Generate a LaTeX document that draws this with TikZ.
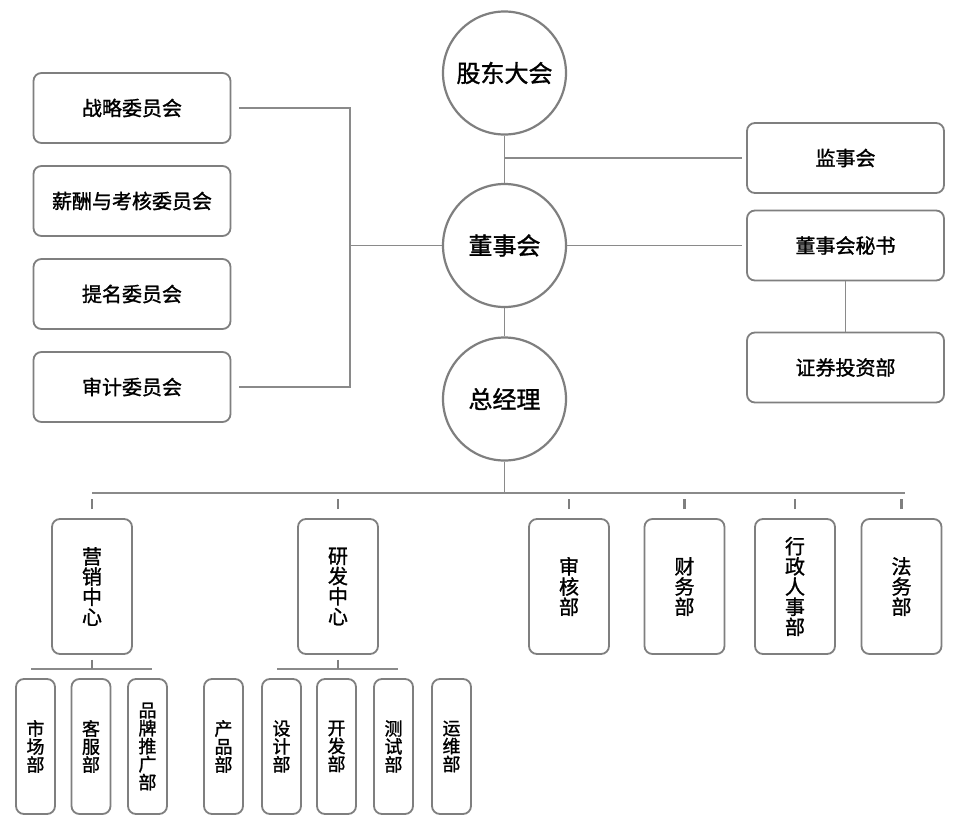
\documentclass[tikz,border=0pt]{standalone}
\usepackage{fontspec}
\setmainfont{Noto Sans CJK SC}[FakeBold=1.3]
\usetikzlibrary{calc}
\definecolor{bordergray}{HTML}{7F7F7F}
\definecolor{linegray}{HTML}{8A8A8A}
\begin{document}
\begin{tikzpicture}[x=1pt,y=-1pt,
  circ/.style={circle,draw=bordergray,line width=2.2pt,minimum size=123pt,inner sep=0pt,font=\fontsize{24}{24}\selectfont},
  hbox/.style={rectangle,rounded corners=8pt,draw=bordergray,line width=1.8pt,minimum width=197pt,minimum height=70pt,inner sep=0pt,font=\fontsize{20}{20}\selectfont},
  vbox/.style={rectangle,rounded corners=8pt,draw=bordergray,line width=1.8pt,minimum width=80pt,minimum height=135pt,inner sep=0pt,align=center,font=\fontsize{20}{20.2}\selectfont},
  sbox/.style={rectangle,rounded corners=8pt,draw=bordergray,line width=1.8pt,minimum width=39pt,minimum height=135pt,inner sep=0pt,align=center,font=\fontsize{18}{18}\selectfont},
  conn/.style={draw=linegray,line width=1.6pt},
  tick/.style={draw=bordergray,line width=2.4pt},
]
\useasboundingbox[fill=white] (0,0) rectangle (961,825);

% circles
\node[circ] (sh) at (504.5,73) {股东大会};
\node[circ] (bd) at (504.5,245.5) {董事会};
\node[circ] (gm) at (504.5,399) {总经理};

% left committees
\node[hbox] (c1) at (132,108) {战略委员会};
\node[hbox] (c2) at (132,201) {薪酬与考核委员会};
\node[hbox] (c3) at (132,294) {提名委员会};
\node[hbox] (c4) at (132,387) {审计委员会};

% right boxes
\node[hbox] (js) at (845.5,158) {监事会};
\node[hbox] (sec) at (845.5,245.5) {董事会秘书};
\node[hbox] (inv) at (845.5,367.5) {证券投资部};

% second level
\node[vbox] (mk) at (92,586.5) {营\\销\\中\\心};
\node[vbox] (rd) at (338,586.5) {研\\发\\中\\心};
\node[vbox] (sh2) at (569,586.5) {审\\核\\部};
\node[vbox] (cw) at (684.5,586.5) {财\\务\\部};
\node[vbox] (xz) at (795,586.5) {行\\政\\人\\事\\部};
\node[vbox] (fw) at (901.5,586.5) {法\\务\\部};

% third level
\node[sbox] (sc) at (35.5,746.5) {市\\场\\部};
\node[sbox] (kf) at (91,746.5) {客\\服\\部};
\node[sbox] (pp) at (147.5,746.5) {品\\牌\\推\\广\\部};
\node[sbox] (cp) at (223.5,746.5) {产\\品\\部};
\node[sbox] (sj) at (281.5,746.5) {设\\计\\部};
\node[sbox] (kfa) at (336.5,746.5) {开\\发\\部};
\node[sbox] (cs) at (393.5,746.5) {测\\试\\部};
\node[sbox] (yw) at (451.5,746.5) {运\\维\\部};

% coordinates
\coordinate (lb) at (350,245.5);
\coordinate (j1) at (504.5,158);
\coordinate (barL) at (92,493);
\coordinate (barR) at (905,493);
\coordinate (mbL) at (31,669);
\coordinate (mbR) at (152,669);
\coordinate (rbL) at (277,669);
\coordinate (rbR) at (398,669);

% connectors
\draw[conn] (sh.south) -- (bd.north);
\draw[conn] (bd.south) -- (gm.north);
\draw[conn, shorten <=8pt] (c1.east) -| (lb);
\draw[conn, shorten <=8pt] (c4.east) -| (lb);
\draw[conn] (lb) -- (bd.west);
\draw[conn, shorten >=4pt] (j1) -- (js.west);
\draw[conn, shorten >=4pt] (bd.east) -- (sec.west);
\draw[conn] (sec.south) -- (inv.north);
\draw[conn] (gm.south) -- (gm.south |- barL);
\draw[conn] (barL) -- (barR);
\foreach \n in {mk,rd,sh2,cw,xz,fw}{
  \draw[tick, shorten <=9pt, shorten >=6pt] (\n.north) -- (\n.north |- barL);
}
\draw[conn] (mbL) -- (mbR);
\draw[tick, shorten <=5pt] (mk.south) -- (mk.south |- mbL);
\draw[conn] (rbL) -- (rbR);
\draw[tick, shorten <=5pt] (rd.south) -- (rd.south |- rbL);
\end{tikzpicture}
\end{document}
